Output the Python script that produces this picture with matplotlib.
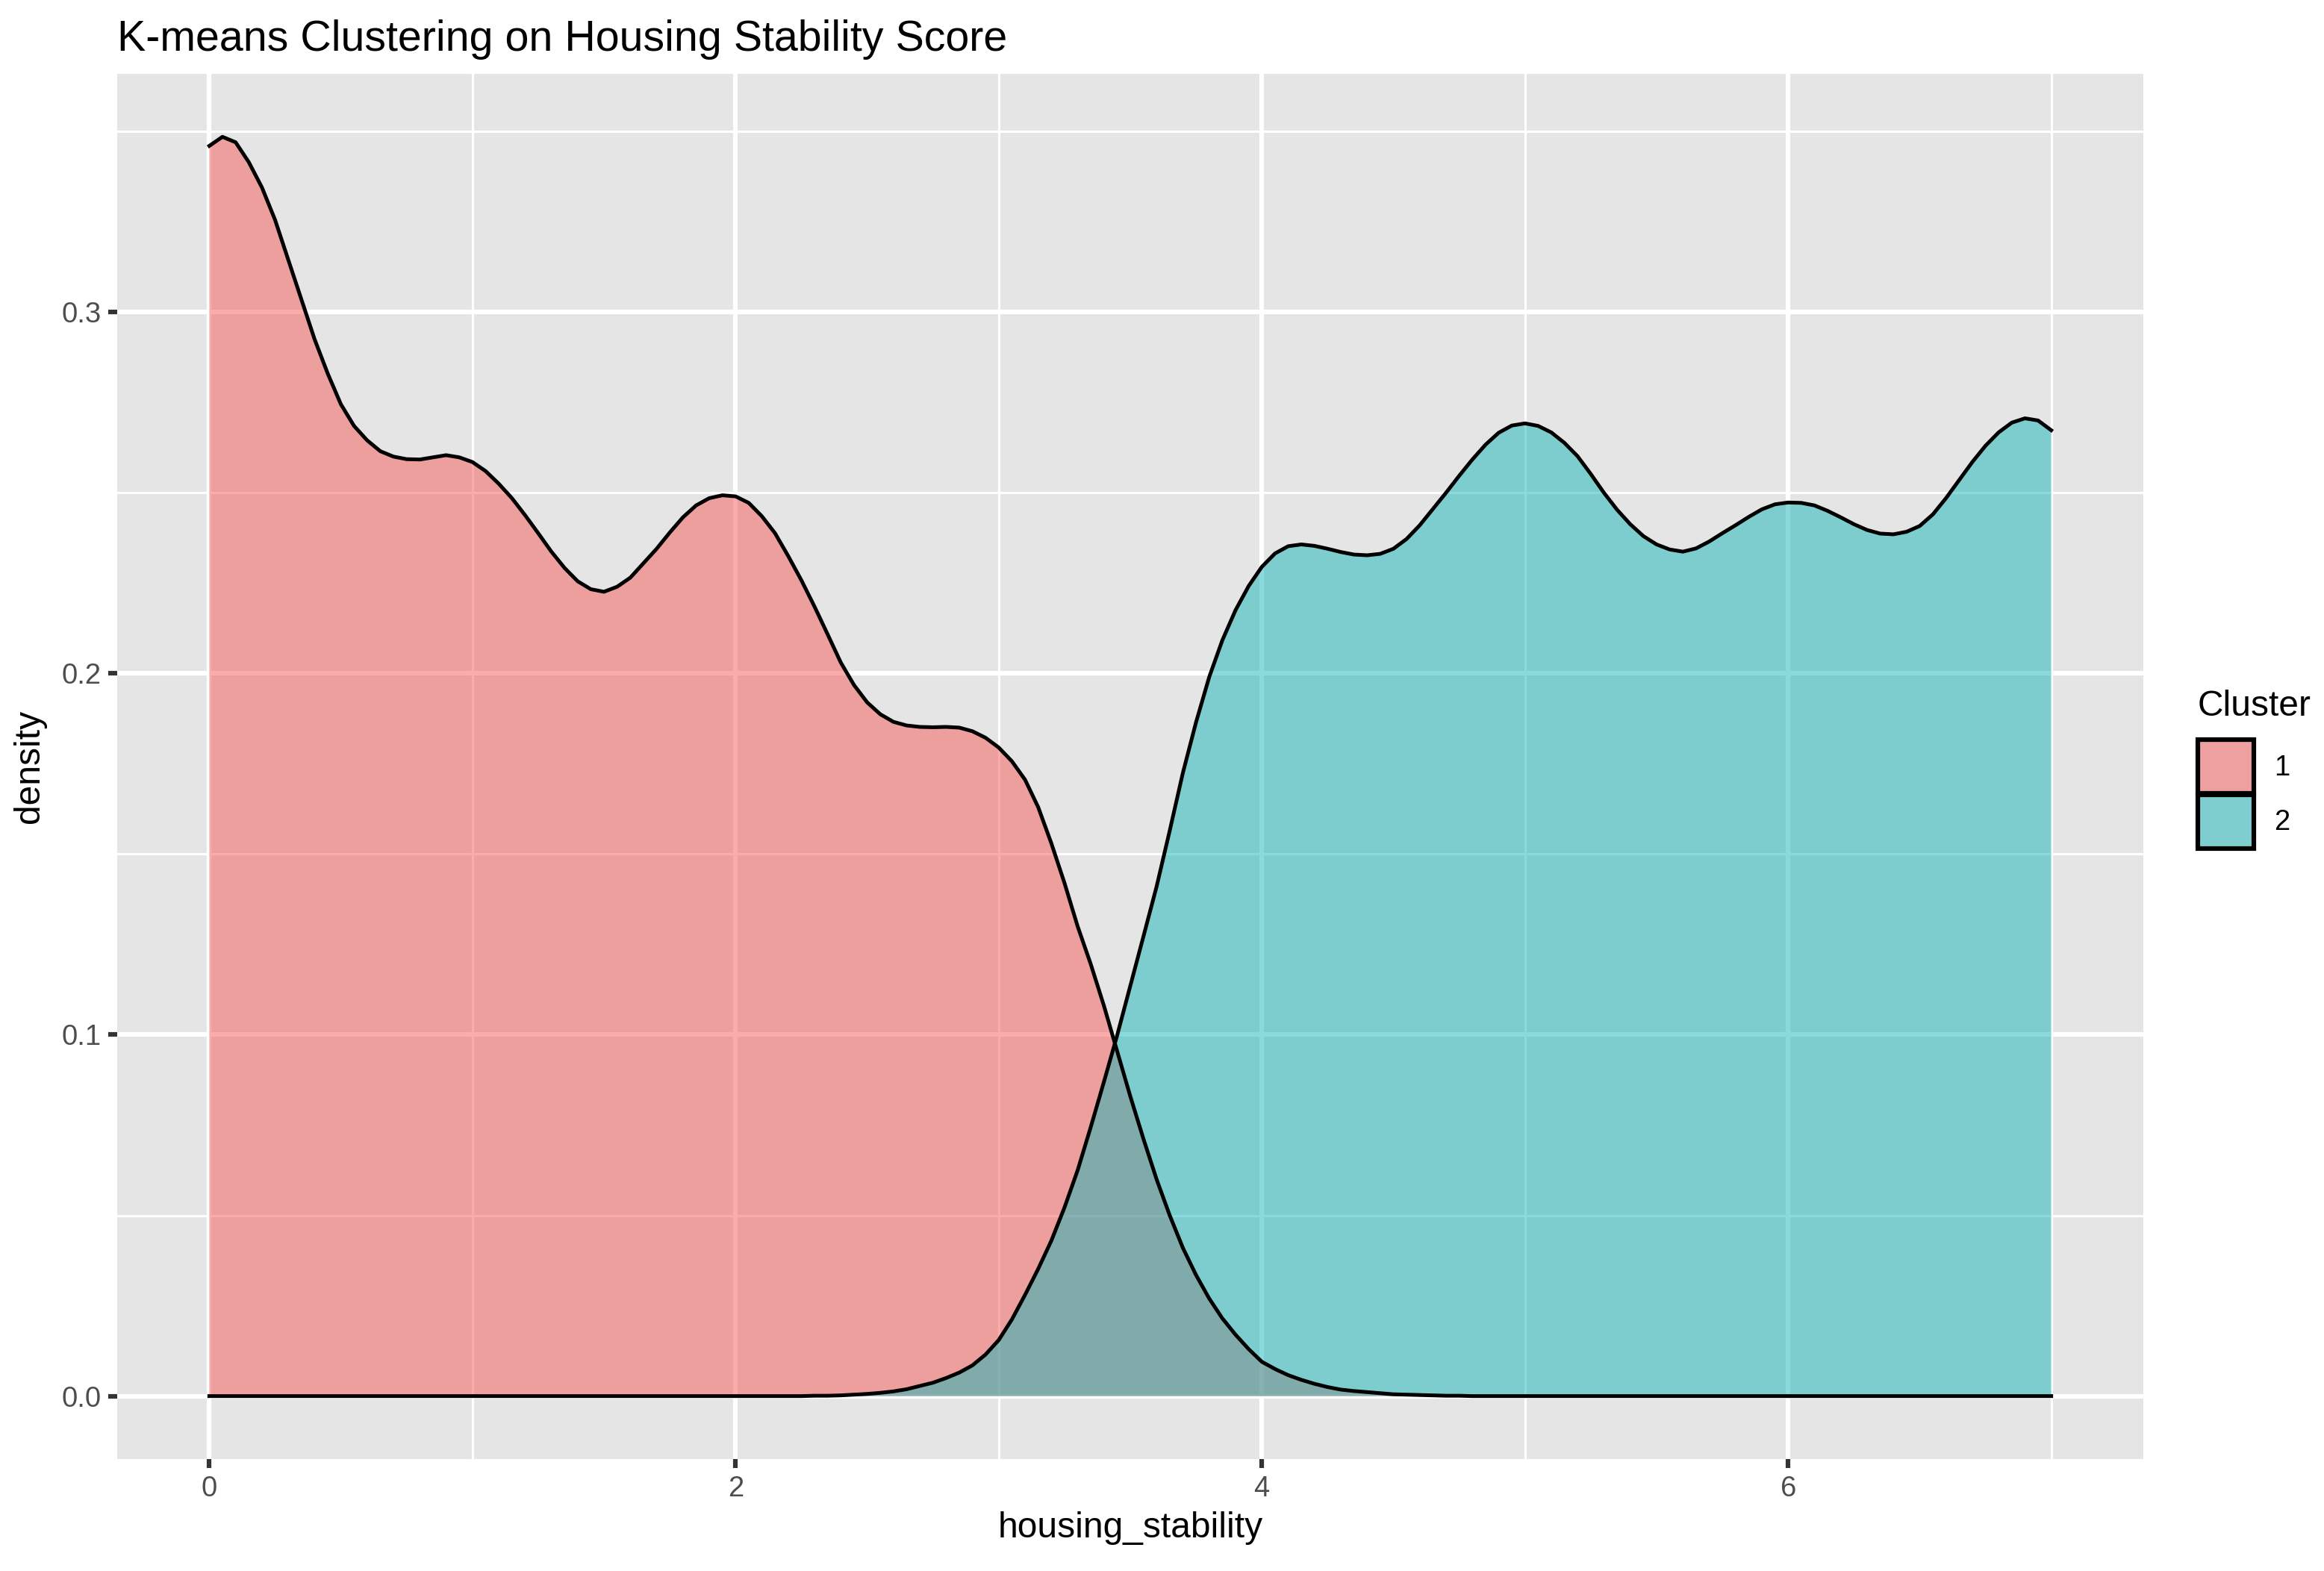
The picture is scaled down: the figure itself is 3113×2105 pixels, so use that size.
import numpy as np
import matplotlib
matplotlib.use("Agg")
import matplotlib.pyplot as plt
from matplotlib.patches import Patch
from matplotlib.ticker import FixedLocator

plt.rcParams['font.family'] = ['Liberation Sans', 'DejaVu Sans']

# ---------------- data ----------------
housing_stability = np.linspace(0.0, 7.0, 141)   # evaluation grid, step 0.05

cluster1_density = [
    0.3460, 0.3485, 0.3470, 0.3415, 0.3345, 0.3255, 0.3145, 0.3035, 0.2925, 0.2830,
    0.2745, 0.2685, 0.2645, 0.2615, 0.2600, 0.2593, 0.2592, 0.2598, 0.2604, 0.2598,
    0.2585, 0.2560, 0.2525, 0.2485, 0.2438, 0.2388, 0.2337, 0.2292, 0.2255, 0.2233,
    0.2226, 0.2240, 0.2265, 0.2305, 0.2345, 0.2390, 0.2432, 0.2465, 0.2485, 0.2493,
    0.2490, 0.2472, 0.2435, 0.2388, 0.2325, 0.2258, 0.2185, 0.2108, 0.2030, 0.1968,
    0.1920, 0.1887, 0.1866, 0.1856, 0.1852, 0.1851, 0.1852, 0.1850, 0.1840, 0.1822,
    0.1795, 0.1757, 0.1706, 0.1630, 0.1530, 0.1420, 0.1300, 0.1195, 0.1080, 0.0955,
    0.0830, 0.0712, 0.0600, 0.0500, 0.0410, 0.0335, 0.0270, 0.0215, 0.0170, 0.0130,
    0.0095, 0.0075, 0.0058, 0.0045, 0.0034, 0.0025, 0.0018, 0.0014, 0.0011, 0.0008,
    0.0005, 0.0004, 0.0003, 0.0002, 0.0001, 0.0001, 0.0, 0.0, 0.0, 0.0,
    0.0, 0.0, 0.0, 0.0, 0.0, 0.0, 0.0, 0.0, 0.0, 0.0,
    0.0, 0.0, 0.0, 0.0, 0.0, 0.0, 0.0, 0.0, 0.0, 0.0,
    0.0, 0.0, 0.0, 0.0, 0.0, 0.0, 0.0, 0.0, 0.0, 0.0,
    0.0, 0.0, 0.0, 0.0, 0.0, 0.0, 0.0, 0.0, 0.0, 0.0,
    0.0,
]

cluster2_density = [
    0.0, 0.0, 0.0, 0.0, 0.0, 0.0, 0.0, 0.0, 0.0, 0.0,
    0.0, 0.0, 0.0, 0.0, 0.0, 0.0, 0.0, 0.0, 0.0, 0.0,
    0.0, 0.0, 0.0, 0.0, 0.0, 0.0, 0.0, 0.0, 0.0, 0.0,
    0.0, 0.0, 0.0, 0.0, 0.0, 0.0, 0.0, 0.0, 0.0, 0.0,
    0.0, 0.0, 0.0, 0.0, 0.0, 0.0, 0.0001, 0.0001, 0.0002, 0.0004,
    0.0006, 0.0009, 0.0013, 0.0019, 0.0028, 0.0037, 0.0050, 0.0065, 0.0085, 0.0115,
    0.0155, 0.0212, 0.0280, 0.0352, 0.0430, 0.0522, 0.0625, 0.0745, 0.0870, 0.0998,
    0.1135, 0.1272, 0.1410, 0.1565, 0.1725, 0.1865, 0.1990, 0.2092, 0.2175, 0.2242,
    0.2295, 0.2332, 0.2352, 0.2357, 0.2353, 0.2345, 0.2336, 0.2329, 0.2327, 0.2331,
    0.2345, 0.2372, 0.2410, 0.2455, 0.2500, 0.2547, 0.2592, 0.2633, 0.2666, 0.2686,
    0.2692, 0.2685, 0.2667, 0.2638, 0.2601, 0.2552, 0.2500, 0.2453, 0.2413, 0.2380,
    0.2357, 0.2343, 0.2337, 0.2346, 0.2365, 0.2388, 0.2410, 0.2433, 0.2454, 0.2468,
    0.2473, 0.2472, 0.2465, 0.2450, 0.2432, 0.2413, 0.2397, 0.2387, 0.2385, 0.2392,
    0.2408, 0.2440, 0.2485, 0.2535, 0.2585, 0.2630, 0.2667, 0.2694, 0.2706, 0.2700,
    0.2673,
]

cluster_labels = ['1', '2']
x_ticks = [0, 2, 4, 6]
x_minor = [1, 3, 5, 7]
y_ticks = [0.0, 0.1, 0.2, 0.3]
y_tick_labels = ['0.0', '0.1', '0.2', '0.3']
y_minor = [0.05, 0.15, 0.25, 0.35]

title = 'K-means Clustering on Housing Stability Score'
x_title = 'housing_stability'
y_title = 'density'
legend_title = 'Cluster'

# ---------------- styling ----------------
W, H, DPI = 3113, 2105, 300
s = 1.045  # scale of ggplot point sizes in this render
fill_colors = ['#F55B59', '#17B7B9']
key_colors = ['#EDA09F', '#7ECECF']
panel_bg = '#E5E5E5'
curve_lw = 1.2

fig = plt.figure(figsize=(W / DPI, H / DPI), dpi=DPI, facecolor='white')
left, right, top, bottom = 157, 2871, 99, 1955
ax = fig.add_axes([left / W, 1 - bottom / H, (right - left) / W, (bottom - top) / H])
ax.set_facecolor(panel_bg)
for sp in ax.spines.values():
    sp.set_visible(False)

ymax = max(max(cluster1_density), max(cluster2_density))
ax.set_xlim(-0.35, 7.35)
ax.set_ylim(-0.05 * ymax, 1.05 * ymax)

ax.xaxis.set_major_locator(FixedLocator(x_ticks))
ax.xaxis.set_minor_locator(FixedLocator(x_minor))
ax.yaxis.set_major_locator(FixedLocator(y_ticks))
ax.yaxis.set_minor_locator(FixedLocator(y_minor))
ax.set_xticklabels([str(t) for t in x_ticks])
ax.set_yticklabels(y_tick_labels)

ax.set_axisbelow(True)
ax.grid(which='major', color='white', linewidth=1.42 * s)
ax.grid(which='minor', color='white', linewidth=0.71 * s)
ax.tick_params(which='major', length=2.75 * s, width=1.42 * s, color='#333333',
               labelcolor='#4D4D4D', labelsize=8.8 * s, pad=2.2 * s)
ax.tick_params(which='minor', length=0)

for dens, col in zip([cluster1_density, cluster2_density], fill_colors):
    ax.fill_between(housing_stability, 0, dens, facecolor=col, alpha=0.5, linewidth=0)
    ax.plot(housing_stability, dens, color='black', linewidth=curve_lw,
            solid_joinstyle='round')

ax.set_xlabel(x_title, fontsize=11 * s, labelpad=2.75 * s)
ax.set_ylabel(y_title, fontsize=11 * s, labelpad=4.8)

fig.text(left / W, 1 - 68 / H, title, fontsize=13.2 * s, ha='left', va='baseline')

handles = [Patch(facecolor=c, edgecolor='black', linewidth=1.42 * s) for c in key_colors]
fig.legend(handles, cluster_labels, loc='upper left',
           bbox_to_anchor=(2944 / W, 1 - 991 / H), frameon=False, borderpad=0,
           borderaxespad=0, fontsize=8.8 * s, handlelength=1.963, handleheight=2.514,
           handletextpad=0.7, labelspacing=0.04)
fig.text(2944 / W, 1 - 959 / H, legend_title, fontsize=11 * s, ha='left', va='baseline')

fig.savefig('out.png', dpi=DPI, facecolor='white')
